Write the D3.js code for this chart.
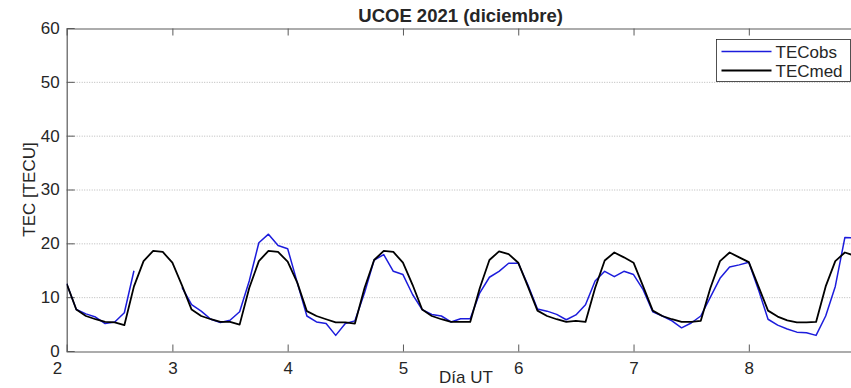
<!DOCTYPE html>
<html>
<head>
<meta charset="utf-8">
<script src="https://cdn.jsdelivr.net/npm/d3@7"></script>
<style>
body { margin:0; background:#fff; }
svg text { font-family: "Liberation Sans", Arial, sans-serif; fill:#262626; }
</style>
</head>
<body>
<div id="chart"></div>
<script>
(function(){

var width = 851,
	height = 388,
	x_left = 66.7,
	x_right = 854.5,
	y_top = 28,
	y_bottom = 351;

// data: 2-hourly samples, first one at day 2 + 2h

var day_start = 2 + 1/12,
	day_step = 1/12;

var tec_obs = [
	12.5, 7.7, 6.9, 6.3, 5.1, 5.4, 7.1, 14.9, null, null, null, null,
	11.8, 8.6, 7.4, 5.9, 5.3, 5.7, 7.3, 13.0, 20.1, 21.7, 19.6, 19.0,
	12.7, 6.5, 5.4, 5.1, 2.9, 5.1, 5.6, 10.8, 16.9, 17.9, 14.8, 14.2,
	10.5, 7.7, 6.8, 6.5, 5.4, 6.0, 6.0, 10.8, 13.7, 14.8, 16.3, 16.3,
	12.3, 7.8, 7.4, 6.8, 5.8, 6.7, 8.6, 13.0, 14.8, 13.8, 14.8, 14.2,
	11.4, 7.3, 6.5, 5.6, 4.3, 5.2, 6.5, 10.0, 13.5, 15.6, 16.0, 16.5,
	11.4, 5.9, 4.8, 4.1, 3.5, 3.4, 2.9, 6.5, 12.0, 21.1, 21.0
];

var tec_med = [
	12.5, 7.7, 6.5, 5.9, 5.4, 5.3, 4.8, 12.0, 16.7, 18.6, 18.4, 16.4,
	12.2, 7.7, 6.5, 5.9, 5.4, 5.4, 4.9, 11.7, 16.7, 18.6, 18.4, 16.6,
	12.7, 7.4, 6.5, 5.9, 5.3, 5.3, 5.1, 11.7, 16.9, 18.6, 18.4, 16.4,
	12.3, 7.7, 6.5, 5.9, 5.4, 5.4, 5.4, 11.7, 16.9, 18.5, 18.0, 16.4,
	12.0, 7.5, 6.5, 5.9, 5.4, 5.6, 5.4, 11.7, 16.8, 18.3, 17.4, 16.4,
	12.0, 7.5, 6.5, 5.9, 5.4, 5.4, 5.6, 11.7, 16.7, 18.3, 17.4, 16.5,
	12.0, 7.5, 6.4, 5.7, 5.3, 5.3, 5.4, 12.0, 16.7, 18.3, 17.7
];

var x_ticks = [2, 3, 4, 5, 6, 7, 8],
	y_ticks = [0, 10, 20, 30, 40, 50, 60],
	grid_values = [10, 20, 30, 40, 50];

var series = [
	{name: "TECobs", values: tec_obs, color: "#1c1cdc", width: 1.5},
	{name: "TECmed", values: tec_med, color: "#000000", width: 1.8}
];

var dias = tec_med.map(function(d, i){ return day_start + i * day_step; });

var axiscolor = "#5a5a5a",
	gridcolor = "#b8b8b8";

// scales

var X = d3.scaleLinear().domain([day_start, dias[dias.length - 1]]).range([x_left, x_right]);
var Y = d3.scaleLinear().domain([0, 60]).range([y_bottom, y_top]);

var svg = d3.select("#chart").append("svg")
	.attr("width", width)
	.attr("height", height)
	.style("display", "block");

svg.append("rect").attr("width", width).attr("height", height).style("fill", "#fff");

svg.append("clipPath").attr("id", "plotclip")
	.append("rect")
	.attr("x", x_left).attr("y", y_top)
	.attr("width", x_right - x_left).attr("height", y_bottom - y_top);

// grid

svg.append("g").selectAll("line").data(grid_values).enter().append("line")
	.attr("x1", x_left).attr("x2", x_right)
	.attr("y1", function(d){ return Y(d) + 0.5; })
	.attr("y2", function(d){ return Y(d) + 0.5; })
	.style("stroke", gridcolor)
	.style("stroke-width", 1)
	.style("stroke-dasharray", "1,1.5");

// axes, ticks pointing inward like matlab

var xaxis = svg.append("g")
	.attr("transform", "translate(0," + (y_bottom + 0.5) + ")")
	.call(d3.axisBottom(X).tickValues(x_ticks).tickSize(-7).tickPadding(10).tickFormat(d3.format("d")));

var xaxis_top = svg.append("g")
	.attr("transform", "translate(0," + (y_top + 0.5) + ")")
	.call(d3.axisTop(X).tickValues(x_ticks).tickSize(-7).tickFormat(""));

var yaxis = svg.append("g")
	.attr("transform", "translate(" + (x_left) + ",0)")
	.call(d3.axisLeft(Y).tickValues(y_ticks).tickSize(-8).tickPadding(7).tickFormat(d3.format("d")));

[xaxis, xaxis_top, yaxis].forEach(function(a){
	a.select(".domain").style("stroke", axiscolor).style("stroke-width", 1.2);
	a.selectAll(".tick line").style("stroke", axiscolor);
	a.selectAll(".tick text").style("font-size", "17px").style("fill", "#262626")
		.style("font-family", "'Liberation Sans', Arial, sans-serif");
});

// day 2 lies left of the first sample: label only
xaxis.selectAll(".tick").filter(function(d){ return d == 2; }).select("line").remove();
xaxis_top.selectAll(".tick").filter(function(d){ return d == 2; }).remove();
yaxis.selectAll(".tick").filter(function(d){ return d == 0 || d == 60; }).select("line").remove();

// lines

var line = d3.line()
	.defined(function(d){ return d[1] != null; })
	.x(function(d){ return X(d[0]); })
	.y(function(d){ return Y(d[1]); });

svg.append("g").attr("clip-path", "url(#plotclip)")
	.selectAll("path").data(series).enter().append("path")
	.attr("d", function(s){ return line(s.values.map(function(v, i){ return [dias[i], v]; })); })
	.style("fill", "none")
	.style("stroke", function(s){ return s.color; })
	.style("stroke-width", function(s){ return s.width; })
	.style("stroke-linejoin", "round");

// title and labels

svg.append("text")
	.attr("x", (x_left + x_right) / 2).attr("y", 22)
	.attr("text-anchor", "middle")
	.style("font-size", "18.5px").style("font-weight", "bold")
	.text("UCOE 2021 (diciembre)");

svg.append("text")
	.attr("transform", "translate(35," + ((y_top + y_bottom) / 2) + ") rotate(-90)")
	.attr("text-anchor", "middle")
	.style("font-size", "17px")
	.text("TEC [TECU]");

svg.append("text")
	.attr("x", 466).attr("y", 383)
	.attr("text-anchor", "middle")
	.style("font-size", "17px")
	.text("Día UT");

// legend

var legend = svg.append("g").attr("transform", "translate(716.5,39.5)");

legend.append("rect")
	.attr("width", 134).attr("height", 42)
	.style("fill", "#fff")
	.style("stroke", "#262626")
	.style("stroke-width", 0.8);

var items = legend.selectAll(".item").data(series).enter().append("g")
	.attr("transform", function(d, i){ return "translate(0," + (12 + i * 19) + ")"; });

items.append("line")
	.attr("x1", 5).attr("x2", 55)
	.style("stroke", function(d){ return d.color; })
	.style("stroke-width", function(d){ return d.width; });

items.append("text")
	.attr("x", 59).attr("y", 6)
	.style("font-size", "17px")
	.text(function(d){ return d.name; });

})()
</script>
</body>
</html>
